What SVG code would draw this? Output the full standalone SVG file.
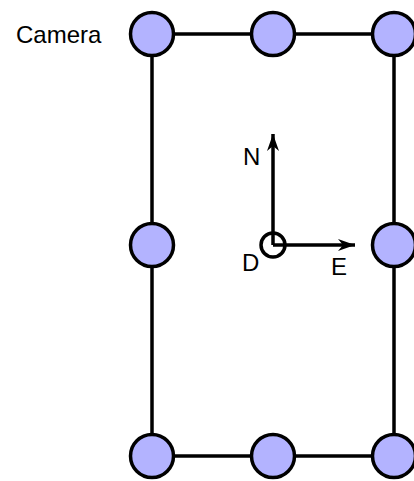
<svg xmlns="http://www.w3.org/2000/svg" width="414" height="481" viewBox="0 0 414 481">
<style>
.cam{fill:#b3b3ff;stroke:#000;stroke-width:3.5}
.ln{stroke:#000;stroke-width:3.5;fill:none}
.t{font-family:"Liberation Sans",Arial,sans-serif;font-size:24px;fill:#000}
</style>
<defs>
<marker id="ah" markerUnits="userSpaceOnUse" markerWidth="20" markerHeight="14" refX="17" refY="7" orient="auto">
<path d="M0,1 L17,7 L0,13 L5,7 Z" fill="#000"/>
</marker>
</defs>
<g id="connectors">
<path class="ln" d="M152,34 H394"/>
<path class="ln" d="M152,456 H394"/>
<path class="ln" d="M152,34 V456"/>
<path class="ln" d="M394,34 V456"/>
<path class="ln" d="M273,245 V134" marker-end="url(#ah)"/>
<path class="ln" d="M273,245 H355" marker-end="url(#ah)"/>
</g>
<g id="cam-tl"><circle class="cam" cx="152" cy="34" r="21.5"/></g>
<g id="cam-tm"><circle class="cam" cx="273" cy="34" r="21.5"/></g>
<g id="cam-tr"><circle class="cam" cx="394" cy="34" r="21.5"/></g>
<g id="cam-ml"><circle class="cam" cx="152" cy="245" r="21.5"/></g>
<g id="cam-mr"><circle class="cam" cx="394" cy="245" r="21.5"/></g>
<g id="cam-bl"><circle class="cam" cx="152" cy="456" r="21.5"/></g>
<g id="cam-bm"><circle class="cam" cx="273" cy="456" r="21.5"/></g>
<g id="cam-br"><circle class="cam" cx="394" cy="456" r="21.5"/></g>
<g id="origin"><circle cx="273" cy="245" r="12" fill="none" stroke="#000" stroke-width="3.5"/></g>
<g id="labels">
<text class="t" x="16" y="43">Camera</text>
<text class="t" x="243" y="165">N</text>
<text class="t" x="242" y="271">D</text>
<text class="t" x="331" y="275">E</text>
</g>
</svg>
